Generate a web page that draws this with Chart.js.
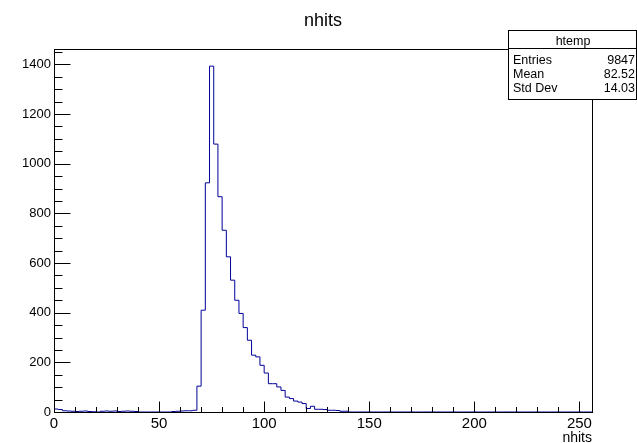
<!DOCTYPE html>
<html>
<head>
<meta charset="utf-8">
<script src="https://cdn.jsdelivr.net/npm/chart.js@4.4.0/dist/chart.umd.min.js"></script>
<style>
html, body { margin: 0; padding: 0; background: #fff; }
#wrap { width: 637px; height: 443px; position: relative; }
</style>
</head>
<body>
<div id="wrap"><canvas id="hist"></canvas></div>
<script>
// histogram "htemp" : 128 bins of width 2 from 0 to 256
const bin_low = 0;
const bin_high = 256;
const bin_width = 2;
const counts = [
    12, 10, 5, 4, 3, 2, 3, 4, 2, 1,
    0, 3, 4, 3, 4, 2, 3, 4, 3, 2,
    0, 0, 0, 0, 0, 0, 0, 0, 2, 3,
    4, 5, 5, 7, 104, 410, 923, 1393, 1079, 867,
    732, 625, 531, 450, 397, 340, 289, 229, 222, 188,
    157, 114, 114, 101, 87, 60, 54, 44, 40, 34,
    14, 23, 11, 11, 10, 7, 7, 6, 3, 3,
    0, 0, 0, 0, 0, 0, 0, 0, 0, 0,
    0, 0, 0, 0, 0, 0, 0, 0, 0, 0,
    0, 0, 0, 0, 0, 0, 0, 0, 0, 0,
    0, 0, 0, 0, 0, 0, 0, 0, 0, 0,
    0, 0, 0, 0, 0, 0, 0, 0, 0, 0,
    0, 0, 0, 0, 0, 0, 0, 0
];
const y_max = 1462;

const x_major = [0, 50, 100, 150, 200, 250];
const x_minor_step = 10;
const y_major = [0, 200, 400, 600, 800, 1000, 1200, 1400];
const y_minor_step = 50;

const chart_title = "nhits";
const x_title = "nhits";
const stats_name = "htemp";
const stats_labels = ["Entries", "Mean", "Std Dev"];
const stats_values = ["9847", "82.52", "14.03"];

const line_color = "#000099";
const font_family = "'Liberation Sans', Arial, Helvetica, sans-serif";

// outline points: start on the baseline, step through bin edges, drop back down
let points = [{ x: bin_low, y: 0 }];
counts.forEach((c, i) => {
    points.push({ x: bin_low + i * bin_width, y: c });
});
points.push({ x: bin_high, y: counts[counts.length - 1] });
points.push({ x: bin_high, y: 0 });

// frame, inside ticks, titles and stats box the ROOT way
const root_style = {
    id: 'root_style',
    afterDraw(chart) {
        const ctx = chart.ctx;
        const area = chart.chartArea;
        const xs = chart.scales.x;
        const ys = chart.scales.y;
        ctx.save();
        ctx.strokeStyle = "#000";
        ctx.lineWidth = 1;
        ctx.strokeRect(Math.round(area.left) + 0.5, Math.round(area.top) + 0.5,
            Math.round(area.right - area.left), Math.round(area.bottom - area.top));

        const bottom = Math.round(area.bottom) + 0.5;
        const left = Math.round(area.left) + 0.5;
        ctx.beginPath();
        for (let v = bin_low; v <= bin_high; v += x_minor_step) {
            const px = Math.round(xs.getPixelForValue(v)) + 0.5;
            const len = x_major.includes(v) ? 11 : 5.5;
            ctx.moveTo(px, bottom);
            ctx.lineTo(px, bottom - len);
        }
        for (let v = 0; v <= y_max; v += y_minor_step) {
            const py = Math.round(ys.getPixelForValue(v)) + 0.5;
            const len = y_major.includes(v) ? 16 : 8;
            ctx.moveTo(left, py);
            ctx.lineTo(left + len, py);
        }
        ctx.stroke();

        ctx.fillStyle = "#000";
        ctx.font = "18px " + font_family;
        ctx.textAlign = "center";
        ctx.textBaseline = "alphabetic";
        ctx.fillText(chart_title, 323, 26);

        ctx.font = "14px " + font_family;
        ctx.textAlign = "right";
        ctx.fillText(x_title, Math.round(area.right), 442);

        // stats box
        const bx = 508.5, by = 30.5, bw = 128, bh = 69;
        ctx.fillStyle = "#fff";
        ctx.fillRect(bx, by, bw, bh);
        ctx.strokeRect(bx, by, bw, bh);
        ctx.beginPath();
        ctx.moveTo(bx, 48.5);
        ctx.lineTo(bx + bw, 48.5);
        ctx.stroke();
        ctx.fillStyle = "#000";
        ctx.font = "12.5px " + font_family;
        ctx.textAlign = "center";
        ctx.fillText(stats_name, 573, 45);
        const row_y = [64, 78, 92];
        stats_labels.forEach((lab, i) => {
            ctx.textAlign = "left";
            ctx.fillText(lab, 513, row_y[i]);
            ctx.textAlign = "right";
            ctx.fillText(stats_values[i], 635, row_y[i]);
        });
        ctx.restore();
    }
};

onload = () => {
    new Chart(document.getElementById('hist'), {
        type: 'line',
        data: {
            datasets: [{
                data: points,
                stepped: 'before',
                borderColor: line_color,
                borderWidth: 1,
                pointRadius: 0,
                fill: false,
                tension: 0
            }]
        },
        options: {
            responsive: true,
            maintainAspectRatio: false,
            animation: false,
            devicePixelRatio: 1,
            layout: {
                padding: { top: 49, right: 45, bottom: 0, left: 0 }
            },
            scales: {
                x: {
                    type: 'linear',
                    min: bin_low,
                    max: bin_high,
                    afterBuildTicks: (scale) => { scale.ticks = x_major.map(v => ({ value: v })); },
                    afterFit: (scale) => { scale.height = 31; },
                    grid: { display: false, drawTicks: false },
                    border: { display: false },
                    ticks: {
                        padding: 3,
                        maxRotation: 0,
                        autoSkip: false,
                        color: "#000",
                        font: { family: font_family, size: 15 },
                        callback: (v) => String(v)
                    }
                },
                y: {
                    type: 'linear',
                    min: 0,
                    max: y_max,
                    afterBuildTicks: (scale) => { scale.ticks = y_major.map(v => ({ value: v })); },
                    afterFit: (scale) => { scale.width = 54; },
                    grid: { display: false, drawTicks: false },
                    border: { display: false },
                    ticks: {
                        padding: 3,
                        color: "#000",
                        font: { family: font_family, size: 13 },
                        callback: (v) => String(v)
                    }
                }
            },
            plugins: {
                legend: { display: false },
                tooltip: { enabled: false },
                title: { display: false }
            }
        },
        plugins: [root_style]
    });
}
</script>
</body>
</html>
